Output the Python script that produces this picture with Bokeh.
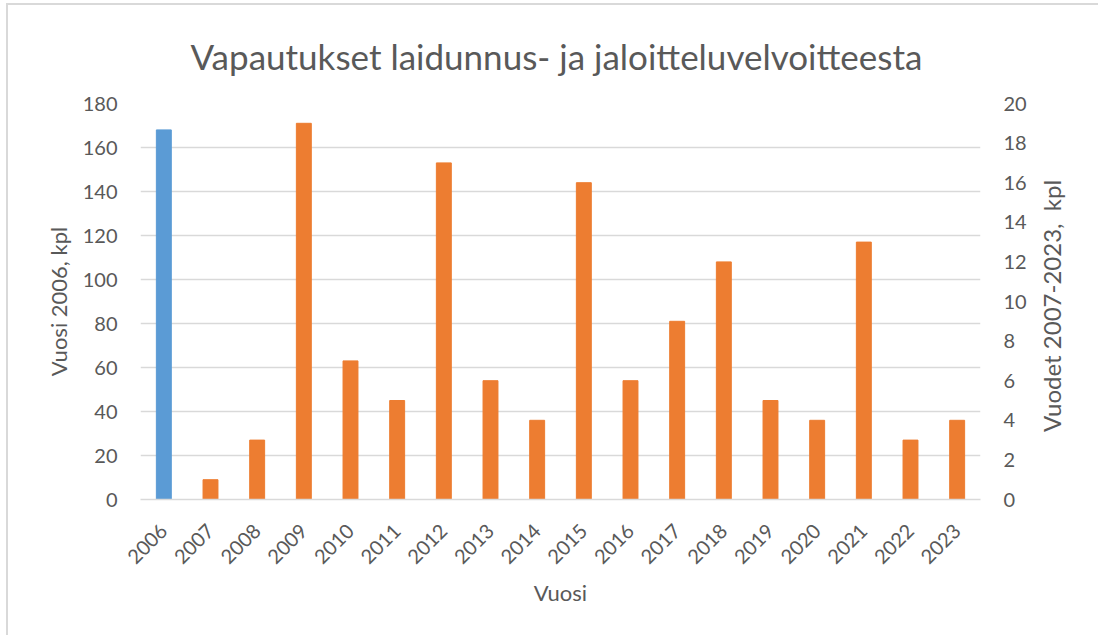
from math import pi
from bokeh.plotting import figure
from bokeh.layouts import row
from bokeh.models import Range1d, FactorRange, LinearAxis, FixedTicker, Div
from bokeh.embed import file_html
from bokeh.resources import INLINE

years = [str(y) for y in range(2006, 2024)]
year_2006 = ["2006"]
value_2006 = [168]
years_later = [str(y) for y in range(2007, 2024)]
values_later = [1, 3, 19, 7, 5, 17, 6, 4, 16, 6, 9, 12, 5, 4, 13, 3, 4]

left_ticks = list(range(0, 181, 20))
right_ticks = list(range(0, 21, 2))

FONT = "Lato"
GRAY = "#595959"
GRID = "#d9d9d9"

p = figure(width=1024, height=630, x_range=FactorRange(*years, range_padding=0),
           y_range=Range1d(0, 180), output_backend="svg", toolbar_location=None,
           title="Vapautukset laidunnus- ja jaloitteluvelvoitteesta")
p.min_border_left = 132
p.min_border_right = 52
p.min_border_top = 98
p.min_border_bottom = 136
p.outline_line_color = None

p.extra_y_ranges = {"r": Range1d(0, 20)}

p.vbar(x=year_2006, top=value_2006, width=0.32, color="#5b9bd5")
p.vbar(x=years_later, top=values_later, width=0.32, color="#ed7d31", y_range_name="r")

p.title.align = "left"
p.title.offset = 50
p.title.text_font = FONT
p.title.text_font_size = "35px"
p.title.text_line_height = 1.0
p.title.text_font_style = "normal"
p.title.text_color = GRAY
p.title.standoff = 54

ra = LinearAxis(y_range_name="r")
p.add_layout(ra, "right")

for ax in [p.yaxis[0], ra]:
    ax.axis_line_color = None
    ax.major_tick_line_color = None
    ax.minor_tick_line_color = None
    ax.major_tick_out = 0
    ax.minor_tick_out = 0
    ax.major_label_text_font = FONT
    ax.major_label_text_font_size = "20px"
    ax.major_label_text_color = GRAY
    ax.axis_label_text_font = FONT
    ax.axis_label_text_font_size = "22px"
    ax.axis_label_text_font_style = "normal"
    ax.axis_label_text_color = GRAY
    ax.major_label_standoff = 23

p.yaxis[0].ticker = FixedTicker(ticks=left_ticks)
ra.ticker = FixedTicker(ticks=right_ticks)
p.yaxis[0].axis_label = "Vuosi 2006, kpl"
p.yaxis[0].axis_label_standoff = 8

xa = p.xaxis[0]
xa.axis_label = "Vuosi"
xa.axis_line_color = GRID
xa.axis_line_width = 1.5
xa.major_tick_line_color = None
xa.minor_tick_line_color = None
xa.major_tick_out = 0
xa.minor_tick_out = 0
xa.major_label_orientation = pi / 4
xa.major_label_text_font = FONT
xa.major_label_text_font_size = "20px"
xa.major_label_text_color = GRAY
xa.axis_label_text_font = FONT
xa.axis_label_text_font_size = "22px"
xa.axis_label_text_font_style = "normal"
xa.axis_label_text_color = GRAY
xa.major_label_standoff = 28
xa.axis_label_standoff = 6

p.xgrid.grid_line_color = None
p.ygrid.grid_line_color = GRID
p.ygrid.grid_line_width = 1.5

right_title = Div(text="Vuodet 2007-2023,  kpl", width=30, height=592,
                  styles={"writing-mode": "vertical-rl", "transform": "rotate(180deg)",
                          "text-align": "center", "font-family": FONT, "font-size": "24px",
                          "color": GRAY, "line-height": "30px", "white-space": "pre"})

layout = row(p, right_title,
             styles={"border-top": "2px solid #d9d9d9", "border-left": "2px solid #d9d9d9",
                     "margin-left": "6px", "margin-top": "3px", "padding-right": "36px"})

open("out.html", "w").write(file_html(layout, INLINE))
